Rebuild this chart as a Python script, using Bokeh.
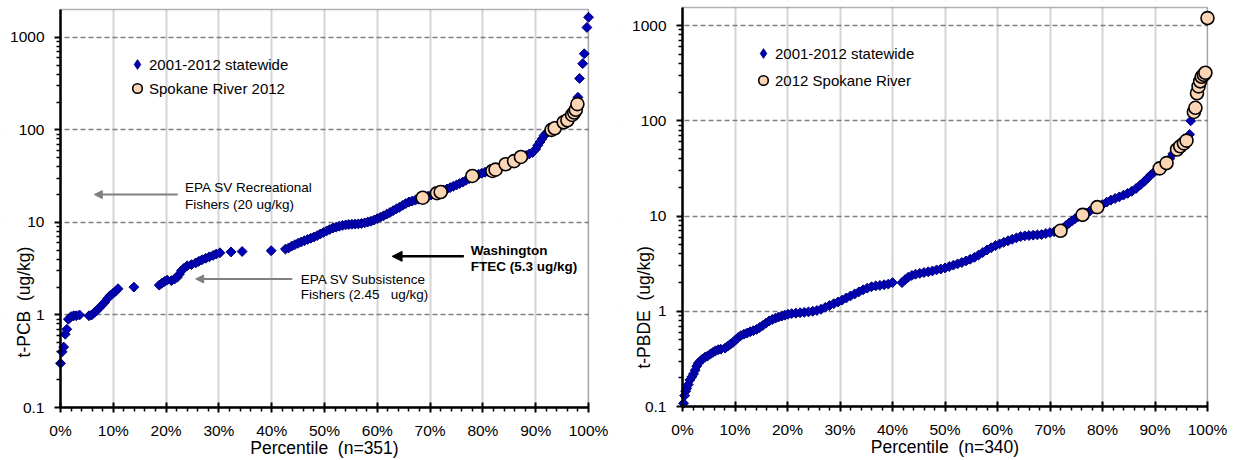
import math
from bokeh.plotting import figure
from bokeh.layouts import row
from bokeh.models import (Range1d, FixedTicker, CustomJSTickFormatter, Label, Arrow,
                          NormalHead, Legend, LegendItem, ColumnDataSource, BoxAnnotation)
from bokeh.embed import file_html
from bokeh.resources import INLINE

FONT = "Liberation Sans"

# ---------------- data ----------------
pcb_state_pct = [0.0, 0.3, 0.6, 0.9, 1.2, 1.5, 2.0, 2.5, 3.0, 3.6, 5.4, 5.9, 6.4, 6.9, 7.4, 7.9,
                 8.4, 8.9, 9.4, 9.9, 10.4, 10.9, 13.9, 18.7, 19.2, 19.7, 20.2, 21.0, 21.6, 22.1,
                 22.5, 22.9, 23.4, 24.0, 24.8, 25.6, 26.2, 26.8, 27.5, 28.2, 28.9, 29.5, 30.2,
                 32.3, 34.4, 39.9, 42.6, 43.2, 43.8, 44.4, 45.0, 45.6, 46.2, 46.8, 47.4, 48.0,
                 48.6, 49.2, 49.8, 50.4, 51.0, 51.6, 52.2, 52.8, 53.4, 54.0, 54.6, 55.2, 55.8,
                 56.4, 57.0, 57.6, 58.2, 58.8, 59.4, 60.0, 60.6, 61.2, 61.8, 62.4, 63.0, 63.6,
                 64.2, 64.8, 65.4, 66.0, 66.6, 67.2, 67.8, 68.4, 69.0, 69.6, 70.2, 70.8, 71.4,
                 72.0, 72.6, 73.2, 73.8, 74.4, 75.0, 75.6, 76.2, 76.8, 77.4, 78.0, 78.6, 79.2,
                 79.8, 80.4, 81.0, 81.6, 82.2, 82.8, 83.4, 84.0, 84.6, 85.2, 85.8, 86.4, 87.0,
                 87.6, 88.2, 88.8, 89.4, 90.0, 90.4, 90.8, 91.2, 91.6, 92.0, 92.4, 92.8, 93.4,
                 94.0, 94.6, 95.2, 95.8, 96.4, 96.9, 97.3, 97.6, 98.0, 98.3, 98.9, 99.2, 99.7, 100.0]
pcb_state_val = [0.30, 0.40, 0.45, 0.62, 0.70, 0.90, 0.96, 0.98, 0.98, 1.00, 0.98, 1.00, 1.06,
                 1.12, 1.20, 1.28, 1.38, 1.50, 1.62, 1.70, 1.80, 1.92, 2.00, 2.10, 2.20, 2.30,
                 2.38, 2.35, 2.45, 2.55, 2.75, 3.00, 3.20, 3.40, 3.50, 3.65, 3.80, 3.95, 4.10,
                 4.25, 4.40, 4.55, 4.70, 4.80, 4.85, 4.95, 5.15, 5.30, 5.55, 5.75, 5.95, 6.15,
                 6.35, 6.55, 6.75, 6.95, 7.20, 7.50, 7.80, 8.10, 8.40, 8.70, 8.90, 9.10, 9.30,
                 9.40, 9.50, 9.55, 9.60, 9.65, 9.75, 9.90, 10.1, 10.3, 10.6, 11.0, 11.4, 11.8,
                 12.3, 12.8, 13.4, 14.0, 14.6, 15.3, 16.0, 16.6, 17.0, 17.4, 17.8, 18.2, 18.7,
                 19.2, 19.8, 20.5, 21.1, 21.6, 22.3, 23.0, 23.8, 24.6, 25.4, 26.3, 27.3, 28.5,
                 29.7, 31.0, 32.3, 33.2, 34.0, 34.8, 35.5, 36.2, 37.0, 38.2, 39.6, 41.2, 42.8,
                 44.2, 45.6, 47.2, 49.0, 51.0, 53.0, 55.0, 57.0, 62.0, 68.0, 74.0, 80.0, 87.0,
                 92.0, 96.0, 100.0, 104.0, 110.0, 116.0, 121.0, 127.0, 137.0, 147.0, 158.0,
                 175.0, 225.0, 360.0, 520.0, 665.0, 1280.0, 1650.0]
pcb_spok_pct = [68.6, 71.3, 72.0, 78.0, 81.8, 82.4, 84.3, 85.9, 87.2, 93.0, 93.6, 95.3, 96.0,
                96.9, 97.3, 97.6, 97.9]
pcb_spok_val = [18.5, 20.7, 21.3, 31.8, 36.0, 37.2, 42.5, 46.0, 51.0, 100.0, 104.0, 121.0,
                127.0, 145.0, 154.0, 165.0, 190.0]

pbde_state_pct = [0.2, 0.4, 0.6, 0.8, 1.1, 1.4, 1.8, 2.1, 2.4, 2.7, 3.0, 3.4, 3.8, 4.3, 4.8, 5.3,
                  5.8, 6.3, 6.8, 7.3, 8.1, 8.6, 9.1, 9.6, 10.1, 10.6, 11.1, 11.7, 12.3, 12.9,
                  13.5, 14.1, 14.7, 15.3, 15.9, 16.5, 17.1, 17.7, 18.3, 18.9, 19.5, 20.1, 20.8,
                  21.6, 22.4, 23.2, 24.0, 24.8, 25.6, 26.4, 27.2, 28.0, 28.8, 29.6, 30.4, 31.2,
                  32.0, 32.8, 33.6, 34.4, 35.2, 36.0, 36.8, 37.6, 38.4, 39.2, 40.0, 41.8, 42.4,
                  43.0, 43.7, 44.4, 45.2, 46.0, 46.8, 47.6, 48.4, 49.2, 50.0, 50.8, 51.6, 52.4,
                  53.2, 54.0, 54.8, 55.6, 56.4, 57.2, 58.0, 58.8, 59.6, 60.4, 61.2, 62.0, 62.8,
                  63.6, 64.4, 65.2, 66.0, 66.8, 67.6, 68.4, 69.2, 70.0, 70.8, 71.6, 72.4, 73.0,
                  73.6, 74.2, 74.8, 75.4, 76.0, 76.8, 77.6, 78.4, 79.2, 80.0, 80.8, 81.6, 82.4,
                  83.2, 84.0, 84.8, 85.6, 86.4, 87.2, 88.0, 88.6, 89.2, 89.8, 90.4, 91.0, 91.6,
                  92.2, 92.8, 93.4, 94.0, 94.6, 95.2, 95.8, 96.3, 96.6, 96.8, 97.4, 97.7, 98.0,
                  98.3, 98.6, 98.9, 99.3, 99.6, 100.0]
pbde_state_val = [0.108, 0.13, 0.145, 0.155, 0.17, 0.19, 0.205, 0.22, 0.24, 0.265, 0.285, 0.30,
                  0.315, 0.33, 0.34, 0.355, 0.37, 0.385, 0.395, 0.40, 0.41, 0.43, 0.45, 0.47,
                  0.50, 0.53, 0.555, 0.575, 0.59, 0.61, 0.625, 0.645, 0.675, 0.71, 0.75, 0.79,
                  0.82, 0.845, 0.87, 0.89, 0.91, 0.93, 0.945, 0.955, 0.965, 0.975, 0.985, 1.00,
                  1.02, 1.05, 1.10, 1.15, 1.20, 1.25, 1.31, 1.38, 1.45, 1.52, 1.60, 1.68, 1.75,
                  1.81, 1.85, 1.87, 1.90, 1.93, 2.00, 2.00, 2.15, 2.28, 2.38, 2.45, 2.50, 2.55,
                  2.60, 2.65, 2.72, 2.78, 2.85, 2.95, 3.05, 3.15, 3.25, 3.38, 3.52, 3.68, 3.90,
                  4.15, 4.40, 4.65, 4.90, 5.10, 5.30, 5.50, 5.70, 5.90, 6.10, 6.20, 6.25, 6.30,
                  6.35, 6.40, 6.55, 6.70, 6.85, 7.00, 7.40, 7.90, 8.40, 8.90, 9.40, 9.90, 10.3,
                  10.8, 11.3, 11.9, 12.5, 13.2, 14.0, 14.7, 15.3, 15.9, 16.6, 17.3, 18.2, 19.5,
                  21.2, 23.2, 25.0, 27.0, 28.8, 30.2, 31.8, 34.0, 36.5, 40.0, 45.0, 49.0, 53.0,
                  57.0, 61.0, 66.0, 72.0, 100.0, 124.0, 137.0, 195.0, 230.0, 260.0, 290.0,
                  305.0, 320.0, 1150.0]
pbde_spok_pct = [72.0, 76.2, 79.0, 90.9, 92.2, 94.2, 94.8, 95.5, 96.0, 97.4, 97.7, 98.0, 98.3,
                 98.6, 98.9, 99.3, 99.6, 100.0]
pbde_spok_val = [7.0, 10.3, 12.4, 31.7, 36.0, 50.0, 54.0, 58.0, 62.0, 124.0, 137.0, 195.0,
                 230.0, 260.0, 290.0, 305.0, 320.0, 1200.0]

x_ticks = [0, 10, 20, 30, 40, 50, 60, 70, 80, 90, 100]
x_minor = [v for v in range(0, 101, 2) if v % 10 != 0]
y_ticks = [0.1, 1, 10, 100, 1000]
y_minor = [k * 10.0 ** e for e in range(-1, 3) for k in range(2, 10)]

DIA_FILL = "#0000b8"
DIA_LINE = "#00007a"
CIR_FILL = "#fcd5b4"
GRAY = "#808080"
H = 460


def make_fig(width, px_left, px_right, px_top, px_bottom, ymin, ymax, xlabel):
    """Frame covers the whole canvas; the plot box (0..100 %, ymin..ymax) sits at the
    given pixel edges, with axes fixed on its left/bottom edges."""
    ppx = (px_right - px_left) / 100.0
    x0 = -px_left / ppx
    x1 = 100 + (width - px_right) / ppx
    dec = math.log10(ymax / ymin) / (px_bottom - px_top)
    y0 = ymin / 10 ** ((H - px_bottom) * dec)
    y1 = ymax * 10 ** (px_top * dec)
    p = figure(width=width, height=H, x_range=Range1d(x0, x1), y_range=Range1d(y0, y1),
               y_axis_type="log", output_backend="svg", toolbar_location=None,
               min_border=0)
    p.background_fill_color = "white"
    p.border_fill_color = "white"
    p.outline_line_color = None
    xa = p.xaxis[0]
    ya = p.yaxis[0]
    xa.ticker = FixedTicker(ticks=x_ticks, minor_ticks=x_minor)
    xa.formatter = CustomJSTickFormatter(code="return tick + '%';")
    xa.bounds = (0, 100)
    xa.fixed_location = ymin
    ya.ticker = FixedTicker(ticks=y_ticks, minor_ticks=y_minor)
    ya.formatter = CustomJSTickFormatter(code="return String(tick);")
    ya.bounds = (ymin, ymax)
    ya.fixed_location = 0
    for ax in (xa, ya):
        ax.axis_line_color = "black"
        ax.axis_line_width = 2.5
        ax.major_tick_line_color = "black"
        ax.major_tick_line_width = 2
        ax.minor_tick_line_color = "black"
        ax.minor_tick_line_width = 1.5
        ax.major_label_text_font = FONT
        ax.major_label_text_font_size = "15.5px"
        ax.major_label_text_color = "black"
        ax.axis_label_text_font = FONT
        ax.axis_label_text_font_size = "17.5px"
        ax.axis_label_text_font_style = "normal"
        ax.axis_label_text_color = "black"
    xa.major_tick_in = 5
    xa.major_tick_out = 5
    xa.minor_tick_in = 0
    xa.minor_tick_out = 4
    xa.major_label_standoff = 9
    xa.axis_label = xlabel
    xa.axis_label_standoff = -4
    ya.major_tick_in = 0
    ya.major_tick_out = 6
    ya.minor_tick_in = 0
    ya.minor_tick_out = 4
    ya.major_label_standoff = 10
    p.xgrid.grid_line_color = "#d4d4d4"
    p.xgrid.grid_line_width = 2
    p.ygrid.grid_line_color = "#7f7f7f"
    p.ygrid.grid_line_width = 1.6
    p.ygrid.grid_line_dash = "5 3"
    # white masks outside the plot box so grid lines stop at its edges
    big_lo, big_hi = y0 / 10, y1 * 10
    for kw in (dict(left=x0 - 10, right=0, bottom=big_lo, top=big_hi),
               dict(left=100, right=x1 + 10, bottom=big_lo, top=big_hi),
               dict(left=x0 - 10, right=x1 + 10, bottom=big_lo, top=ymin),
               dict(left=x0 - 10, right=x1 + 10, bottom=ymax, top=big_hi)):
        p.add_layout(BoxAnnotation(fill_color="white", fill_alpha=1, line_color=None,
                                   level="underlay", **kw))
    # plot-area border
    p.add_layout(BoxAnnotation(left=0, right=100, bottom=ymin, top=ymax,
                               fill_alpha=0, line_color="black", line_width=1.3,
                               level="underlay"))
    return p


def add_series(p, sp, sv, cp, cv, lab1, lab2, legend_loc, spacing):
    s1 = ColumnDataSource(dict(x=sp, y=sv))
    s2 = ColumnDataSource(dict(x=cp, y=cv))
    r1 = p.scatter("x", "y", source=s1, marker="square", angle=math.pi / 4, size=7,
                   fill_color=DIA_FILL, line_color=DIA_LINE, line_width=1)
    r2 = p.scatter("x", "y", source=s2, marker="circle", size=13,
                   fill_color=CIR_FILL, line_color="black", line_width=1.6)
    # legend key for the statewide series: same source, diamond shape, not drawn itself
    r1_key = p.scatter("x", "y", source=s1, marker="diamond", size=9,
                       fill_color=DIA_FILL, line_color=DIA_LINE, line_width=1, visible=False)
    leg = Legend(items=[LegendItem(label=lab1, renderers=[r1_key]),
                        LegendItem(label=lab2, renderers=[r2])],
                 location=legend_loc, glyph_width=24, glyph_height=24, spacing=spacing,
                 padding=0, margin=0, label_standoff=-9, border_line_color=None,
                 background_fill_alpha=0, label_text_font=FONT, label_text_font_size="15px",
                 label_text_color="black")
    p.add_layout(leg)


# ---------------- left chart: t-PCB ----------------
p1 = make_fig(620, 60, 588, 9, 407, 0.1, 2000, "Percentile\u00a0\u00a0(n=351)")
add_series(p1, pcb_state_pct, pcb_state_val, pcb_spok_pct, pcb_spok_val,
           "2001-2012 statewide", "Spokane River 2012", (125, H - 100), 0)
p1.add_layout(Label(x=-6.9, y=1.38, text="t-PCB\u00a0\u00a0(ug/kg)", angle=math.pi / 2,
                    text_align="center", text_baseline="middle", text_font=FONT,
                    text_font_size="17.5px", text_color="black"))

p1.add_layout(Arrow(end=NormalHead(size=8, fill_color=GRAY, line_color=GRAY),
                    x_start=22.2, y_start=20, x_end=6.4, y_end=20,
                    line_color=GRAY, line_width=2))
p1.add_layout(Arrow(end=NormalHead(size=8, fill_color=GRAY, line_color=GRAY),
                    x_start=43.9, y_start=2.45, x_end=25.6, y_end=2.45,
                    line_color=GRAY, line_width=2))
p1.add_layout(Arrow(end=NormalHead(size=10, fill_color="black", line_color="black"),
                    x_start=76.4, y_start=4.3, x_end=62.8, y_end=4.3,
                    line_color="black", line_width=2.5))

annots = [
    (23.6, 23.7, "EPA SV Recreational", "normal"),
    (23.6, 15.7, "Fishers (20 ug/kg)", "normal"),
    (45.5, 2.43, "EPA SV Subsistence", "normal"),
    (45.5, 1.65, "Fishers (2.45\u00a0\u00a0 ug/kg)", "normal"),
    (77.7, 5.0, "Washington", "bold"),
    (77.7, 3.38, "FTEC (5.3 ug/kg)", "bold"),
]
for ax_, ay_, t_, st_ in annots:
    p1.add_layout(Label(x=ax_, y=ay_, text=t_, text_align="left", text_baseline="middle",
                        text_font=FONT, text_font_size="13.5px", text_font_style=st_,
                        text_color="black"))

# ---------------- right chart: t-PBDE ----------------
p2 = make_fig(618, 62, 587, 7, 406, 0.1, 1550, "Percentile\u00a0\u00a0(n=340)")
add_series(p2, pbde_state_pct, pbde_state_val, pbde_spok_pct, pbde_spok_val,
           "2001-2012 statewide", "2012 Spokane River", (131, H - 92), 3)
p2.add_layout(Label(x=-7.4, y=1.1, text="t-PBDE\u00a0\u00a0(ug/kg)", angle=math.pi / 2,
                    text_align="center", text_baseline="middle", text_font=FONT,
                    text_font_size="17.5px", text_color="black"))

layout = row(p1, p2)
open("out.html", "w").write(file_html(layout, INLINE))
